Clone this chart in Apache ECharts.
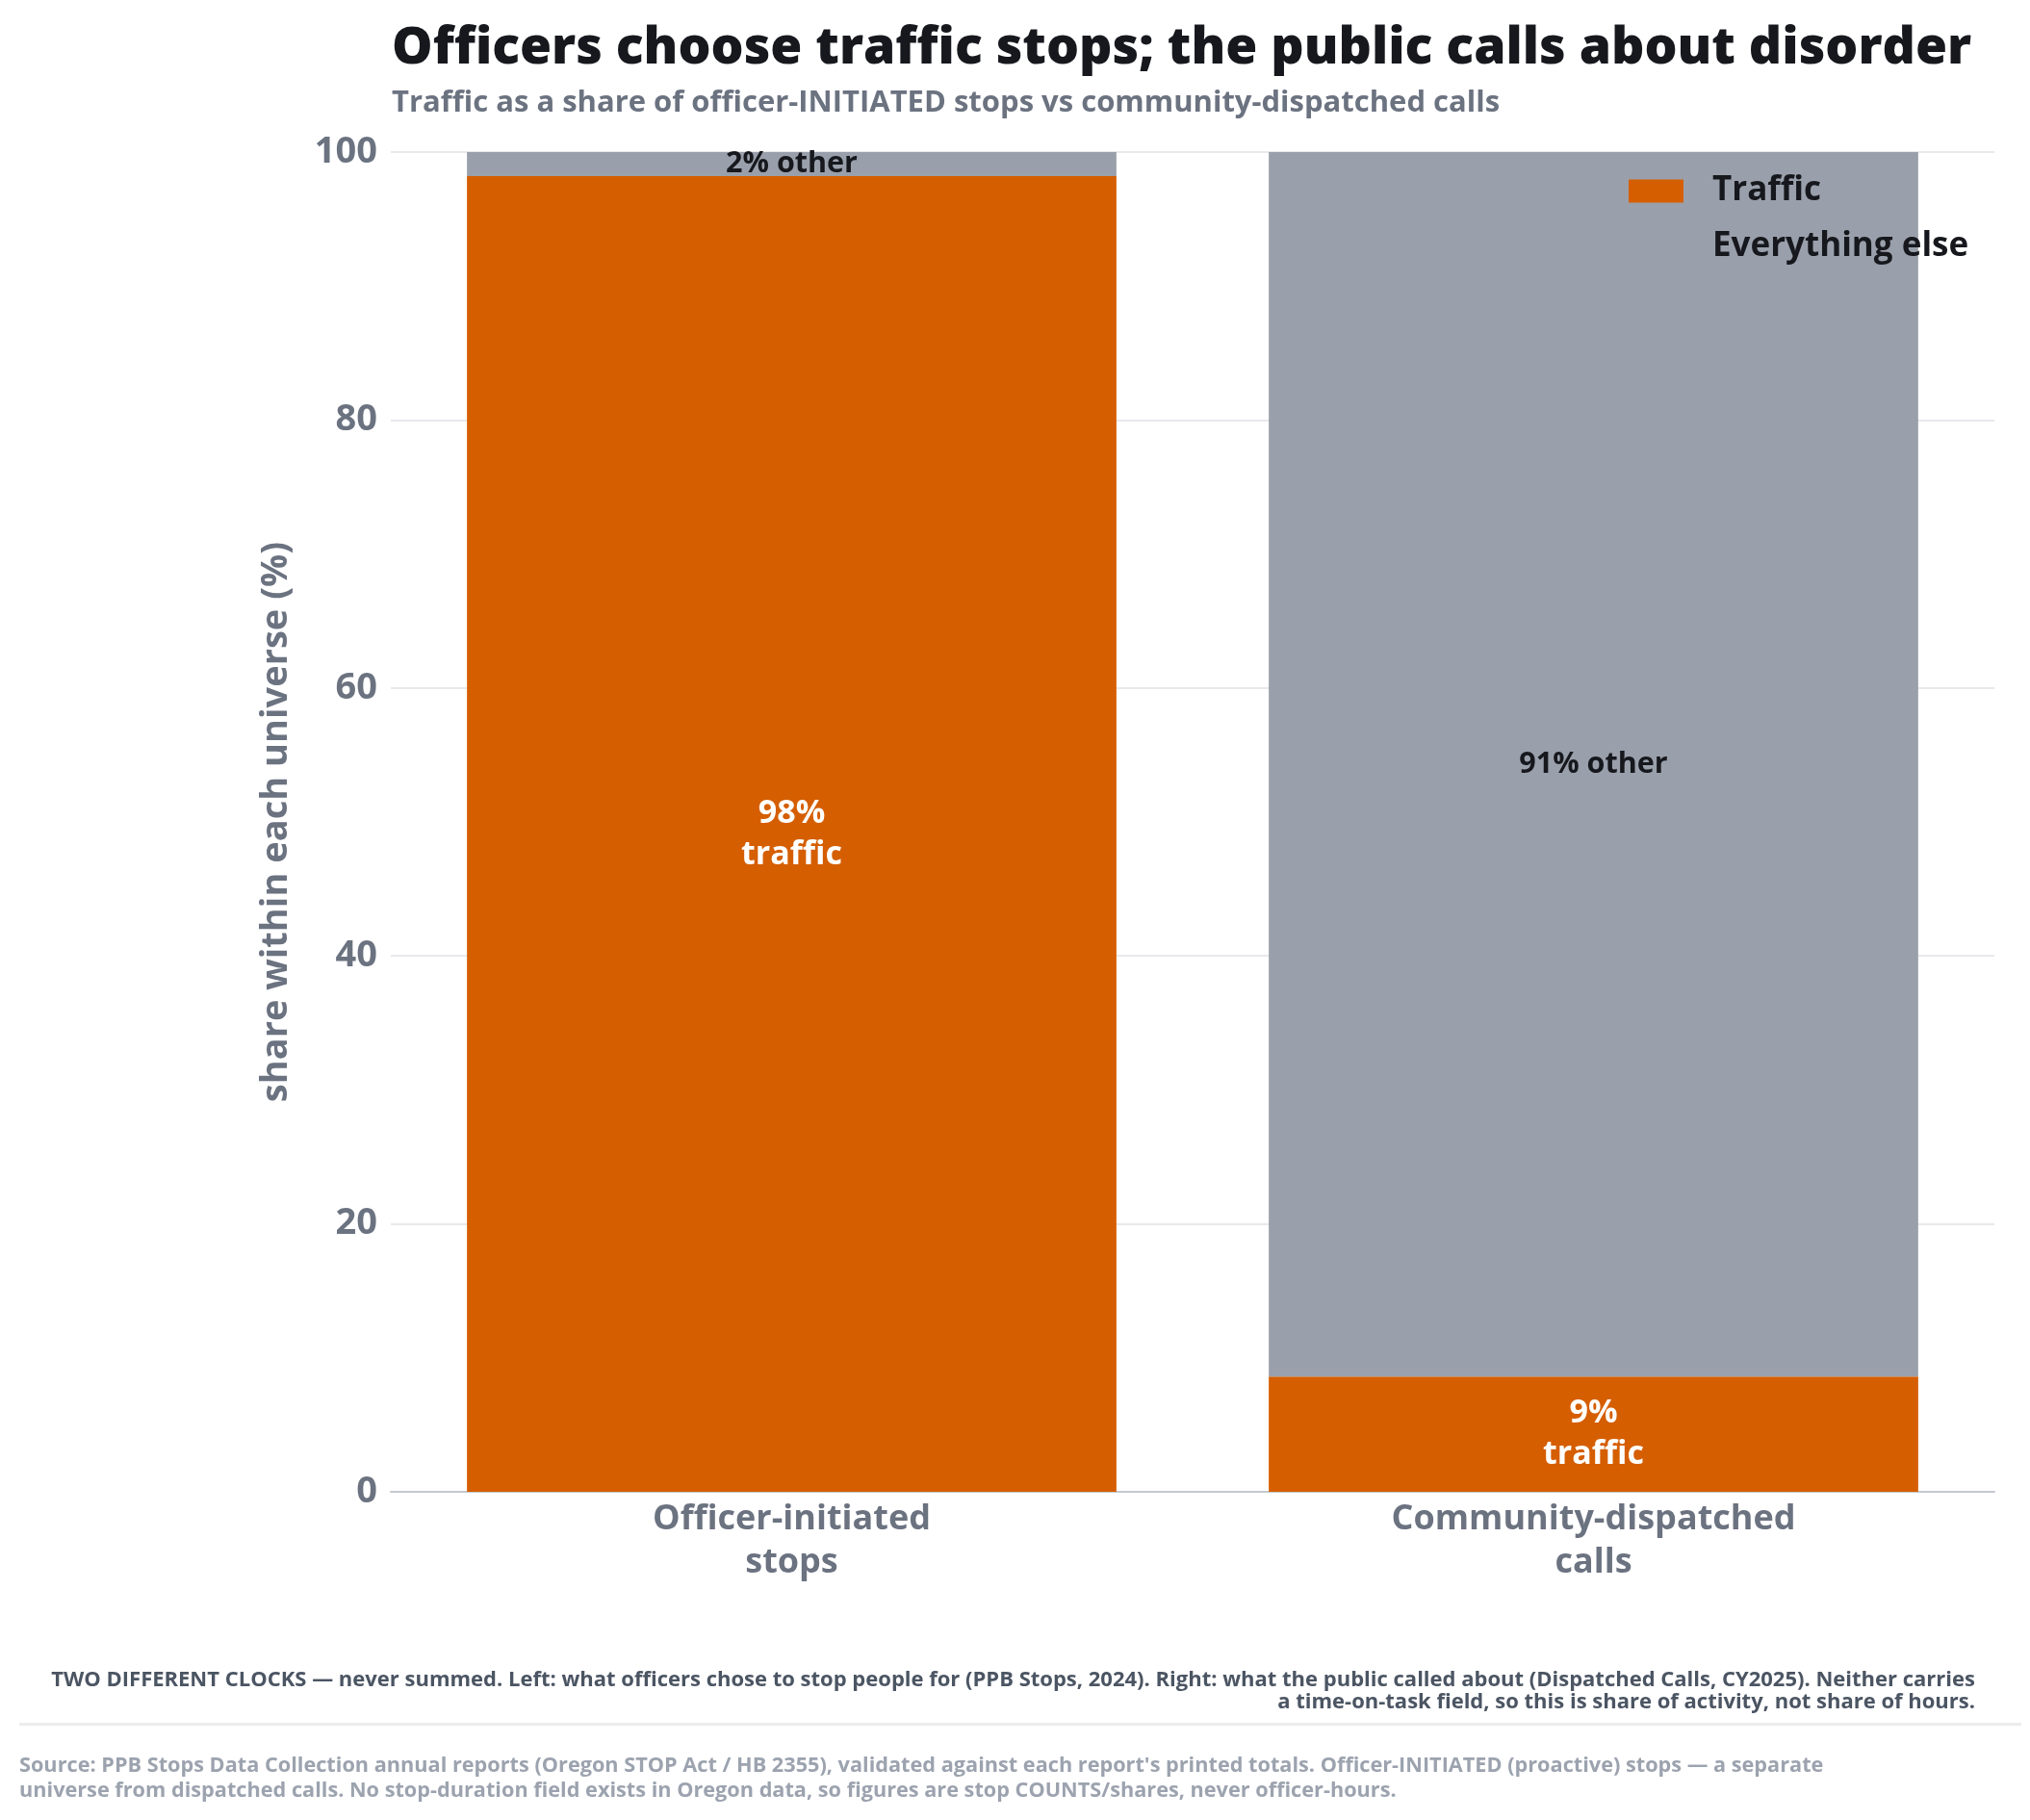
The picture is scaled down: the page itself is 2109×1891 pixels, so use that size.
<!DOCTYPE html>
<html><head><meta charset="utf-8">
<script src="https://cdn.jsdelivr.net/npm/echarts@6/dist/echarts.min.js"></script>
<style>html,body{margin:0;padding:0;background:#fff}#c{width:2109px;height:1891px}</style>
</head><body><div id="c"></div>
<script>
const categories = ['Officer-initiated\nstops', 'Community-dispatched\ncalls'];
const trafficShare = [98.2, 8.6];
const otherShare = [1.8, 91.4];
const yTicks = [0, 20, 40, 60, 80, 100];
const seriesNames = ['Traffic', 'Everything else'];

const FONT = '"Open Sans", "Noto Sans", sans-serif';
const chart = echarts.init(document.getElementById('c'));
chart.setOption({
  backgroundColor: '#ffffff',
  textStyle: { fontFamily: FONT },
  animation: false,
  title: {
    text: 'Officers choose traffic stops; the public calls about disorder',
    subtext: 'Traffic as a share of officer-INITIATED stops vs community-dispatched calls',
    left: 402, top: 19, itemGap: 14,
    textStyle: { fontFamily: FONT, fontSize: 53.5, fontWeight: 800, color: '#16181d' },
    subtextStyle: { fontFamily: FONT, fontSize: 31, fontWeight: 'bold', color: '#6b7280' }
  },
  legend: {
    orient: 'vertical', left: 1687, top: 176, itemWidth: 57, itemHeight: 24, itemGap: 23,
    icon: 'rect',
    data: seriesNames,
    textStyle: { fontFamily: FONT, fontSize: 35, fontWeight: 'bold', color: '#16181d', padding: [0, 0, 0, 25] }
  },
  grid: { left: 406, right: 37, top: 158, bottom: 341 },
  xAxis: {
    type: 'category', data: categories,
    axisLine: { lineStyle: { color: '#c4c9d1', width: 2 } },
    axisTick: { show: false },
    axisLabel: { fontFamily: FONT, fontSize: 36, fontWeight: 'bold', color: '#6b7280', lineHeight: 45, margin: 6 }
  },
  yAxis: {
    type: 'value', min: 0, max: 100, interval: 20,
    name: 'share within each universe (%)', nameLocation: 'middle', nameGap: 100,
    nameTextStyle: { fontFamily: FONT, fontSize: 38, fontWeight: 'bold', color: '#6b7280' },
    axisLine: { show: false }, axisTick: { show: false },
    axisLabel: { fontFamily: FONT, fontSize: 38, fontWeight: 'bold', color: '#6b7280', margin: 14,
      formatter: v => yTicks.includes(v) ? String(v) : '' },
    splitLine: { lineStyle: { color: '#e8e9ed', width: 2 } }
  },
  series: [
    {
      name: seriesNames[0], type: 'bar', stack: 's', barWidth: '81%',
      itemStyle: { color: '#d55e00' },
      data: trafficShare,
      label: { show: true, position: 'inside', fontFamily: FONT, fontSize: 34, fontWeight: 'bold', color: '#ffffff', lineHeight: 43,
        formatter: p => Math.round(p.value) + '%\ntraffic' }
    },
    {
      name: seriesNames[1], type: 'bar', stack: 's', barWidth: '81%',
      itemStyle: { color: '#9aa0ab' },
      data: otherShare,
      label: { show: true, position: 'inside', fontFamily: FONT, fontSize: 30.5, fontWeight: 'bold', color: '#16181d',
        formatter: p => Math.round(p.value) + '% other' }
    }
  ],
  graphic: [
    { type: 'text', x: 2052, y: 1734, style: {
      text: 'TWO DIFFERENT CLOCKS — never summed. Left: what officers chose to stop people for (PPB Stops, 2024). Right: what the public called about (Dispatched Calls, CY2025). Neither carries\na time-on-task field, so this is share of activity, not share of hours.',
      align: 'right', verticalAlign: 'top', font: 'bold 22px ' + FONT, fill: '#4b5563', lineHeight: 23 } },
    { type: 'rect', shape: { x: 20, y: 1790, width: 2080, height: 3 }, style: { fill: '#ececec' } },
    { type: 'text', x: 20, y: 1822, style: {
      text: "Source: PPB Stops Data Collection annual reports (Oregon STOP Act / HB 2355), validated against each report's printed totals. Officer-INITIATED (proactive) stops — a separate\nuniverse from dispatched calls. No stop-duration field exists in Oregon data, so figures are stop COUNTS/shares, never officer-hours.",
      verticalAlign: 'top', font: 'bold 21.7px ' + FONT, fill: '#9ca3af', lineHeight: 26 } }
  ]
});
</script></body></html>
